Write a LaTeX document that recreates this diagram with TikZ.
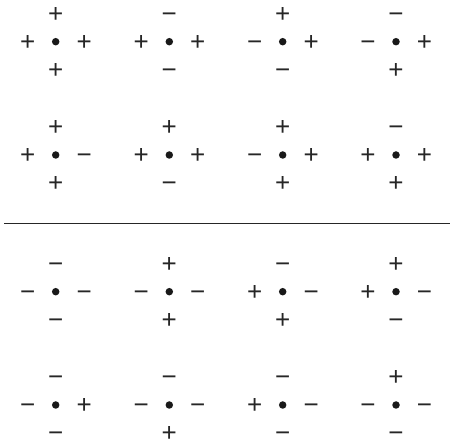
\documentclass[tikz,border=0pt]{standalone}
\usepackage{fontspec}
\setmainfont{Liberation Sans}
\begin{document}
\begin{tikzpicture}[x=1pt,y=-1pt,
  sgn/.style={inner sep=0pt,text height=17.6pt,text depth=0pt,font=\fontsize{26}{26}\selectfont,text=black!85},
  ctr/.style={circle,fill=black!90,inner sep=0pt,minimum size=7.5pt},
  divider/.style={line width=1.1pt,black!85}]
\useasboundingbox (0,0) rectangle (450,443);
\newcommand\pmcross[7]{%
  \node[ctr] (#7) at (#1,#2) {};
  \node[sgn] (#7t) at (#1,#2-28) {#3};
  \node[sgn] (#7l) at (#1-28,#2) {#4};
  \node[sgn] (#7r) at (#1+28.5,#2) {#5};
  \node[sgn] (#7b) at (#1,#2+28) {#6};
}
% row 1
\pmcross{55.7}{41.7}{+}{+}{+}{+}{a1}
\pmcross{169.3}{41.7}{−}{+}{+}{−}{a2}
\pmcross{282.7}{41.7}{+}{−}{+}{−}{a3}
\pmcross{396}{41.7}{−}{−}{+}{+}{a4}
% row 2
\pmcross{55.7}{155}{+}{+}{−}{+}{b1}
\pmcross{169.3}{155}{+}{+}{+}{−}{b2}
\pmcross{282.7}{155}{+}{−}{+}{+}{b3}
\pmcross{396}{155}{−}{+}{+}{+}{b4}
% row 3
\pmcross{55.7}{291.7}{−}{−}{−}{−}{c1}
\pmcross{169.3}{291.7}{+}{−}{−}{+}{c2}
\pmcross{282.7}{291.7}{−}{+}{−}{+}{c3}
\pmcross{396}{291.7}{+}{+}{−}{−}{c4}
% row 4
\pmcross{55.7}{405}{−}{−}{+}{−}{d1}
\pmcross{169.3}{405}{−}{−}{−}{+}{d2}
\pmcross{282.7}{405}{−}{+}{−}{−}{d3}
\pmcross{396}{405}{+}{−}{−}{−}{d4}
\coordinate (L) at (4,223.3);
\coordinate (R) at (450,223.3);
\draw[divider] (L) -- (R);
\end{tikzpicture}
\end{document}
